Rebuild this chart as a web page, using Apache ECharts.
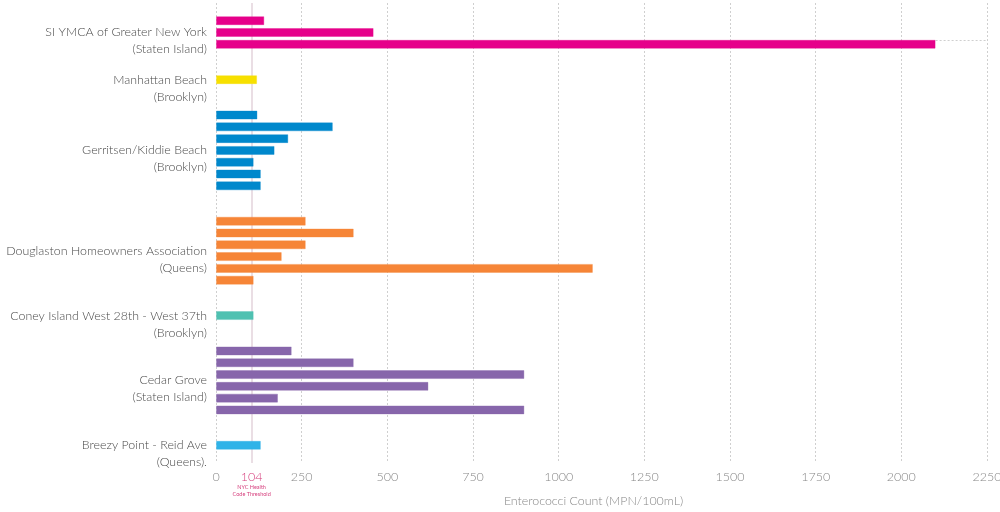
<!DOCTYPE html>
<html>
<head>
<meta charset="utf-8">
<script src="https://cdn.jsdelivr.net/npm/echarts@6/dist/echarts.min.js"></script>
<style>html,body{margin:0;padding:0;background:#fff}#c{width:1000px;height:512px}</style>
</head>
<body>
<div id="c"></div>
<script>
// ---- data ----
const locations = ['SI YMCA of Greater New York', 'Manhattan Beach', 'Gerritsen/Kiddie Beach', 'Douglaston Homeowners Association', 'Coney Island West 28th - West 37th', 'Cedar Grove', 'Breezy Point - Reid Ave'];
const boroughs = ['(Staten Island)', '(Brooklyn)', '(Brooklyn)', '(Queens)', '(Brooklyn)', '(Staten Island)', '(Queens).'];
const siYmca = [141, 460, 2100];
const manhattanBeach = [120];
const gerritsen = [121, 341, 211, 171, 110, 131, 131];
const douglaston = [262, 402, 262, 192, 1100, 110];
const coneyIsland = [110];
const cedarGrove = [221, 402, 900, 620, 181, 900];
const breezyPoint = [131];
const groupColors = ['#e6008a', '#f7e000', '#0088cc', '#f68537', '#4fc1b1', '#8766ab', '#2fb3e8'];
const xTicks = [0, 250, 500, 750, 1000, 1250, 1500, 1750, 2000, 2250];
const threshold = 104;
const thresholdText = ['NYC Health', 'Code Threshold'];
const axisTitle = 'Enterococci Count (MPN/100mL)';

// ---- build rows ----
const groupValues = [siYmca, manhattanBeach, gerritsen, douglaston, coneyIsland, cedarGrove, breezyPoint];
function alpha(hex, a) {
  const n = parseInt(hex.slice(1), 16);
  return 'rgba(' + (n >> 16) + ',' + ((n >> 8) & 255) + ',' + (n & 255) + ',' + a + ')';
}
const rows = ['-'];
const centers = [];
let maxRow = 0, maxVal = -1;
groupValues.forEach((vals, g) => {
  if (g > 0) rows.push('-', '-');
  const first = rows.length;
  vals.forEach(v => {
    if (v > maxVal) { maxVal = v; maxRow = rows.length; }
    rows.push({ value: v, itemStyle: { color: groupColors[g], borderColor: alpha(groupColors[g], 0.35), borderWidth: 1 } });
  });
  centers.push(first + (vals.length - 1) / 2);
});
rows.push('-');
const cats = rows.map((_, i) => 'r' + i);
const xMax = xTicks[xTicks.length - 1];

const chart = echarts.init(document.getElementById('c'));
chart.setOption({
  animation: false,
  textStyle: { fontFamily: 'Lato' },
  grid: { left: 216, right: 13, top: 3, height: 460, outerBoundsMode: 'none', containLabel: false },
  xAxis: {
    type: 'value', min: 0, max: xMax, interval: 250,
    axisLine: { show: false }, axisTick: { show: false },
    splitLine: { show: true, lineStyle: { type: [2, 2], color: '#cfcfcf', width: 1 } },
    axisLabel: {
      customValues: [0, threshold].concat(xTicks.slice(1)),
      margin: 7,
      formatter: v => v === threshold
        ? '{t|' + threshold + '}\n{s|' + thresholdText[0] + '}\n{s|' + thresholdText[1] + '}'
        : '{n|' + v + '}',
      rich: {
        n: { fontSize: 12.5, color: '#888', fontFamily: 'Lato', fontWeight: 300, lineHeight: 14 },
        t: { fontSize: 12.5, color: '#d6407e', fontFamily: 'Lato', fontWeight: 300, lineHeight: 14 },
        s: { fontSize: 5.5, color: '#d6407e', fontFamily: 'Lato', lineHeight: 6.8 }
      }
    },
    name: axisTitle, nameLocation: 'middle', nameGap: 32, nameMoveOverlap: false,
    nameTextStyle: { fontSize: 12.4, color: '#888', fontFamily: 'Lato', fontWeight: 300, padding: [0, 16, 0, 0] }
  },
  yAxis: [
    { type: 'category', data: cats, inverse: true, show: false },
    {
      type: 'value', min: -0.5, max: rows.length - 0.5, interval: 0.5, inverse: true, position: 'left',
      axisLine: { show: false }, axisTick: { show: false }, splitLine: { show: false },
      axisLabel: {
        margin: 9, color: '#4a4a4a', fontSize: 12.4, fontFamily: 'Lato', fontWeight: 300, lineHeight: 17,
        formatter: v => {
          const g = centers.findIndex(c => Math.abs(c - v) < 0.01);
          return g < 0 ? '' : '\n' + locations[g] + '\n' + boroughs[g];
        }
      }
    }
  ],
  series: [
    {
      type: 'bar', yAxisIndex: 0, data: [], z: 1, silent: true,
      markLine: {
        silent: true, symbol: 'none', label: { show: false }, z: 1,
        data: [
          { xAxis: threshold, lineStyle: { type: 'solid', color: '#e3d3db', width: 1.5 } },
          [
            { coord: [maxVal, maxRow], lineStyle: { type: [2, 2], color: '#cfcfcf', width: 1 } },
            { coord: [xMax, maxRow] }
          ]
        ]
      }
    },
    { type: 'bar', yAxisIndex: 0, data: rows, barWidth: 9, z: 3, barGap: '-100%' }
  ]
});
</script>
</body>
</html>
